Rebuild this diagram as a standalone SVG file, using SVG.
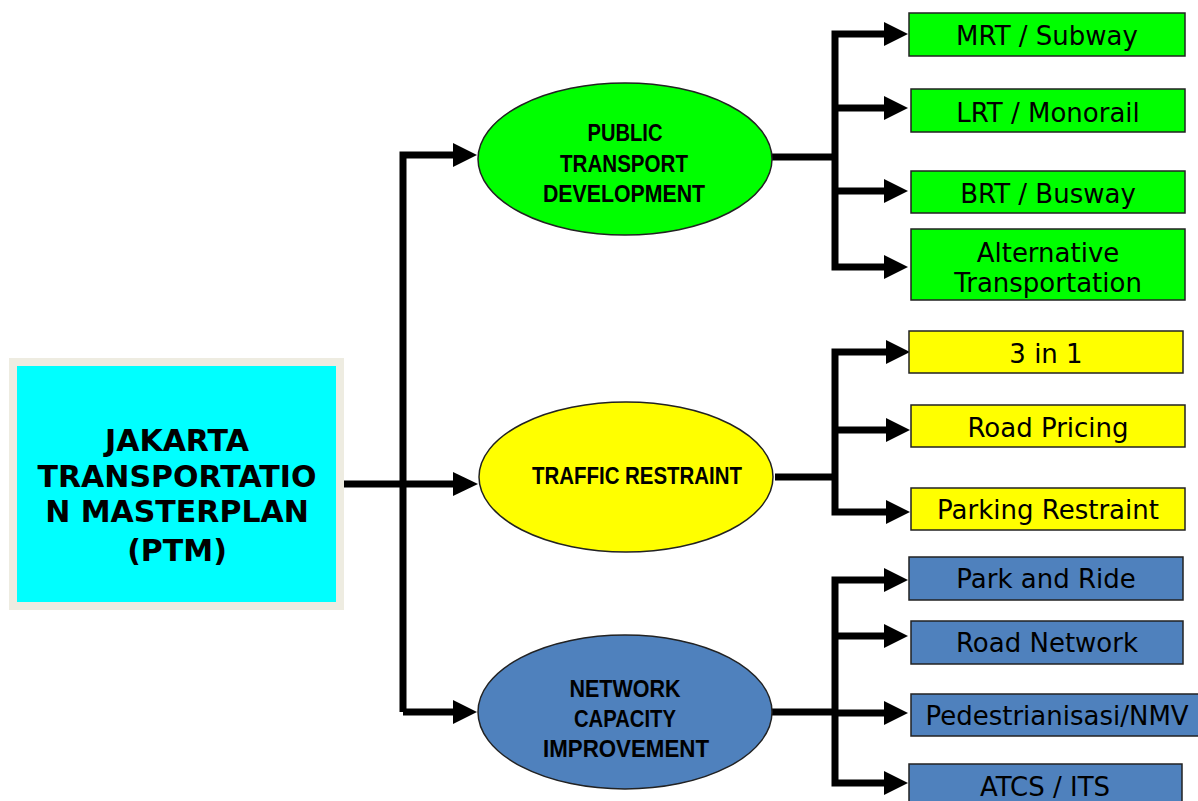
<svg xmlns="http://www.w3.org/2000/svg" width="1198" height="801" viewBox="0 0 1198 801">
<defs>
<style>
.conn{fill:none;stroke:#000;stroke-width:7;stroke-linejoin:miter;stroke-linecap:butt}
.ah{fill:#000}
.box{stroke:#222;stroke-width:1.5}
.g{fill:#00ff00}.y{fill:#ffff00}.b{fill:#4f81bd}
.bt{font-family:"DejaVu Sans",Verdana,sans-serif;font-size:26px;fill:#000;text-anchor:middle}
.et{font-family:"Liberation Sans",Arial,sans-serif;font-weight:bold;font-size:23px;fill:#000;text-anchor:middle}
.mt{font-family:"DejaVu Sans",Verdana,sans-serif;font-weight:bold;font-size:30px;fill:#000;text-anchor:middle}
.ell{stroke:#222;stroke-width:1.5}
</style>
</defs>
<rect width="1198" height="801" fill="#fff"/>

<g id="connectors">
<path class="conn" d="M341 484 H455"/>
<path class="conn" d="M403 712 V155 H455"/>
<path class="conn" d="M403 712 H455"/>
<polygon class="ah" points="453,472 478,484 453,496"/>
<polygon class="ah" points="453,143 477,155 453,167"/>
<polygon class="ah" points="453,700 477,712 453,724"/>

<path class="conn" d="M772 157 H835"/>
<path class="conn" d="M887 34 H835 V267 H887"/>
<path class="conn" d="M835 108 H887 M835 191 H887"/>
<polygon class="ah" points="884,22 908,34 884,46"/>
<polygon class="ah" points="884,96 908,108 884,120"/>
<polygon class="ah" points="884,179 908,191 884,203"/>
<polygon class="ah" points="884,255 908,267 884,279"/>

<path class="conn" d="M775 477 H835"/>
<path class="conn" d="M887 352 H835 V512 H887"/>
<path class="conn" d="M835 430 H887"/>
<polygon class="ah" points="886,340 910,352 886,364"/>
<polygon class="ah" points="886,418 910,430 886,442"/>
<polygon class="ah" points="886,500 910,512 886,524"/>

<path class="conn" d="M772 712 H835"/>
<path class="conn" d="M886 580 H835 V783 H886"/>
<path class="conn" d="M835 636 H886 M835 713 H886"/>
<polygon class="ah" points="884,568 908,580 884,592"/>
<polygon class="ah" points="884,624 908,636 884,648"/>
<polygon class="ah" points="884,701 908,713 884,725"/>
<polygon class="ah" points="884,771 908,783 884,795"/>
</g>

<g id="main">
<rect x="9" y="358" width="335" height="252" fill="#eeece1"/>
<rect x="17" y="366" width="319" height="236" fill="#00ffff"/>
<text class="mt" x="177" y="451">JAKARTA</text>
<text class="mt" x="177" y="487">TRANSPORTATIO</text>
<text class="mt" x="177" y="522">N MASTERPLAN</text>
<text class="mt" x="177" y="561">(PTM)</text>
</g>

<g id="public-transport">
<ellipse class="ell g" cx="625" cy="159" rx="147" ry="76"/>
<text class="et" x="625" y="141" textLength="75" lengthAdjust="spacingAndGlyphs">PUBLIC</text>
<text class="et" x="624" y="172" textLength="128" lengthAdjust="spacingAndGlyphs">TRANSPORT</text>
<text class="et" x="624" y="202" textLength="162" lengthAdjust="spacingAndGlyphs">DEVELOPMENT</text>
</g>

<g id="traffic-restraint">
<ellipse class="ell y" cx="626" cy="477" rx="147" ry="75"/>
<text class="et" x="637" y="484" textLength="210" lengthAdjust="spacingAndGlyphs">TRAFFIC RESTRAINT</text>
</g>

<g id="network-capacity">
<ellipse class="ell b" cx="625" cy="712" rx="147" ry="77"/>
<text class="et" x="625" y="697" textLength="111" lengthAdjust="spacingAndGlyphs">NETWORK</text>
<text class="et" x="625" y="727" textLength="102" lengthAdjust="spacingAndGlyphs">CAPACITY</text>
<text class="et" x="626" y="757" textLength="166" lengthAdjust="spacingAndGlyphs">IMPROVEMENT</text>
</g>

<g id="mrt"><rect class="box g" x="909" y="13" width="276" height="43"/><text class="bt" x="1047" y="45">MRT / Subway</text></g>
<g id="lrt"><rect class="box g" x="911" y="89" width="274" height="43"/><text class="bt" x="1048" y="122">LRT / Monorail</text></g>
<g id="brt"><rect class="box g" x="911" y="171" width="274" height="42"/><text class="bt" x="1048" y="203">BRT / Busway</text></g>
<g id="alt"><rect class="box g" x="911" y="229" width="274" height="71"/><text class="bt" x="1048" y="262">Alternative</text><text class="bt" x="1048" y="292">Transportation</text></g>

<g id="three-in-one"><rect class="box y" x="909" y="331" width="274" height="42"/><text class="bt" x="1046" y="363">3 in 1</text></g>
<g id="road-pricing"><rect class="box y" x="911" y="405" width="274" height="42"/><text class="bt" x="1048" y="437">Road Pricing</text></g>
<g id="parking"><rect class="box y" x="911" y="488" width="274" height="42"/><text class="bt" x="1048" y="519">Parking Restraint</text></g>

<g id="park-ride"><rect class="box b" x="909" y="557" width="274" height="43"/><text class="bt" x="1046" y="588">Park and Ride</text></g>
<g id="road-network"><rect class="box b" x="911" y="621" width="272" height="43"/><text class="bt" x="1047" y="652">Road Network</text></g>
<g id="pedestrian"><rect class="box b" x="911" y="694" width="290" height="42"/><text class="bt" x="1057" y="725">Pedestrianisasi/NMV</text></g>
<g id="atcs"><rect class="box b" x="909" y="764" width="273" height="45"/><text class="bt" x="1045" y="796">ATCS / ITS</text></g>
</svg>
